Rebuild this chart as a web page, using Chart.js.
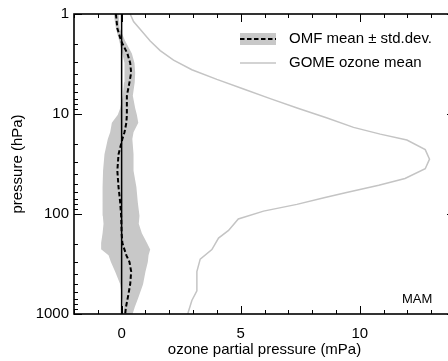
<!DOCTYPE html>
<html>
<head>
<meta charset="utf-8">
<script src="https://cdn.jsdelivr.net/npm/chart.js@4/dist/chart.umd.min.js"></script>
<style>
html,body{margin:0;padding:0;overflow:hidden;background:#fff;}
#wrap{width:470px;height:361px;}
</style>
</head>
<body>
<div id="wrap"><canvas id="c" width="470" height="361"></canvas></div>
<script>
// ---- data ----
const pressureOMF = [1, 1.39, 1.86, 2.48, 3.09, 3.86, 4.82, 6.57, 8.75, 10.2, 12.2, 15.2, 17.8, 25.3, 36.9, 53.8, 76.7, 104, 125, 156, 194, 227, 259, 302, 377, 504, 687, 857, 1000];
const omfMean = [-0.24, -0.18, -0.02, 0.24, 0.36, 0.4, 0.33, 0.22, 0.22, 0.22, 0.2, 0.12, 0.03, -0.13, -0.18, -0.13, -0.06, -0.02, -0.01, 0.0, 0.03, 0.12, 0.2, 0.33, 0.4, 0.36, 0.26, 0.18, 0.15];
const omfLow = [-0.33, -0.24, -0.1, 0.03, 0.12, 0.12, 0.1, 0.05, -0.06, -0.16, -0.41, -0.48, -0.58, -0.72, -0.78, -0.8, -0.8, -0.79, -0.76, -0.8, -0.86, -0.85, -0.55, -0.45, -0.27, -0.06, 0.02, 0.08, 0.08];
const omfHigh = [-0.13, -0.08, 0.15, 0.43, 0.54, 0.57, 0.55, 0.47, 0.57, 0.64, 0.7, 0.5, 0.45, 0.5, 0.5, 0.62, 0.68, 0.75, 0.72, 0.85, 1.06, 1.2, 1.13, 1.1, 1.0, 0.9, 0.7, 0.55, 0.46];

const pressureGOME = [1, 1.19, 1.49, 1.86, 2.32, 2.89, 3.61, 4.51, 5.62, 7.02, 8.75, 10.9, 13.6, 15.9, 18.2, 22.7, 28.3, 35.3, 44.1, 51.5, 61.4, 68.7, 80.1, 93.6, 112, 146, 174, 227, 283, 377, 588, 733, 955, 1000];
const gomeMean = [0.36, 0.5, 0.85, 1.2, 1.62, 2.18, 2.95, 4.0, 5.12, 6.24, 7.4, 8.6, 9.74, 10.86, 11.98, 12.75, 12.93, 12.75, 11.9, 10.8, 9.4, 8.5, 7.36, 5.96, 4.9, 4.49, 4.07, 3.79, 3.3, 3.16, 3.16, 2.95, 2.8, 2.78];

const zeroLineX = [0, 0];
const zeroLineP = [1, 1000];

const xRange = [-2, 14];
const yRange = [1, 1000];
const xTickLabels = [0, 5, 10];
const yTickLabels = [1, 10, 100, 1000];

const seriesNames = ['OMF mean \u00b1 std.dev.', 'GOME ozone mean'];
const xTitle = 'ozone partial pressure (mPa)';
const yTitle = 'pressure (hPa)';
const seasonLabel = 'MAM';

// ---- build ----
const pts = (xs, ps) => xs.map((v, i) => ({x: v, y: ps[i]}));
const FONT = '"Liberation Sans", Arial, Helvetica, sans-serif';
const BAND = '#c8c8c8';
const GOMEC = '#c4c4c4';

const boxPlugin = {
  id: 'boxTicks',
  afterDraw(chart) {
    const {ctx, chartArea: a, scales: {x, y}} = chart;
    ctx.save();
    ctx.strokeStyle = '#000';
    ctx.lineWidth = 1;
    ctx.beginPath();
    for (let v = Math.ceil(xRange[0]); v <= xRange[1]; v++) {
      const px = Math.round(x.getPixelForValue(v)) + 0.5;
      const len = (v % 5 === 0) ? 8 : 4;
      ctx.moveTo(px, a.bottom); ctx.lineTo(px, a.bottom - len);
      ctx.moveTo(px, a.top); ctx.lineTo(px, a.top + len);
    }
    for (let d = 1; d <= 1000; d *= 10) {
      for (let m = 1; m <= 9; m++) {
        const v = d * m;
        if (v > yRange[1]) break;
        const py = Math.round(y.getPixelForValue(v)) + 0.5;
        const len = (m === 1) ? 8 : 4;
        ctx.moveTo(a.left, py); ctx.lineTo(a.left + len, py);
        ctx.moveTo(a.right, py); ctx.lineTo(a.right - len, py);
      }
    }
    ctx.stroke();
    ctx.lineWidth = 1.6;
    ctx.strokeRect(a.left, a.top, a.right - a.left, a.bottom - a.top);

    // legend
    const lx = a.left + 166, lw = 36;
    ctx.fillStyle = BAND;
    ctx.fillRect(lx, a.top + 19, lw, 12);
    ctx.strokeStyle = '#000';
    ctx.lineWidth = 2;
    ctx.setLineDash([4.5, 2.5]);
    ctx.beginPath(); ctx.moveTo(lx, a.top + 25); ctx.lineTo(lx + lw, a.top + 25); ctx.stroke();
    ctx.setLineDash([]);
    ctx.strokeStyle = GOMEC;
    ctx.lineWidth = 1.5;
    ctx.beginPath(); ctx.moveTo(lx, a.top + 49); ctx.lineTo(lx + lw, a.top + 49); ctx.stroke();
    ctx.fillStyle = '#000';
    ctx.font = '15px ' + FONT;
    ctx.textBaseline = 'middle';
    ctx.textAlign = 'left';
    ctx.fillText(seriesNames[0], lx + 49, a.top + 25);
    ctx.fillText(seriesNames[1], lx + 49, a.top + 49);
    ctx.font = '13px ' + FONT;
    ctx.fillText(seasonLabel, a.left + 328, a.top + 285);
    ctx.restore();
  }
};

new Chart(document.getElementById('c'), {
  type: 'line',
  data: {
    datasets: [
      {label: seriesNames[0], data: pts(omfMean, pressureOMF), borderColor: '#000', borderWidth: 2, borderDash: [4.5, 2.5], pointRadius: 0, fill: false, tension: 0},
      {label: 'zero', data: pts(zeroLineX, zeroLineP), borderColor: '#000', borderWidth: 1.5, pointRadius: 0, fill: false},
      {label: seriesNames[1], data: pts(gomeMean, pressureGOME), borderColor: GOMEC, borderWidth: 1.5, pointRadius: 0, fill: false},
      {label: 'high', data: pts(omfHigh, pressureOMF), borderWidth: 0, borderColor: 'rgba(0,0,0,0)', backgroundColor: BAND, pointRadius: 0, fill: '+1'},
      {label: 'low', data: pts(omfLow, pressureOMF), borderWidth: 0, borderColor: 'rgba(0,0,0,0)', pointRadius: 0, fill: false}
    ]
  },
  options: {
    indexAxis: 'y',
    responsive: false,
    animation: false,
    devicePixelRatio: 1,
    layout: {padding: {left: 0, top: 2, right: 15, bottom: 0}},
    plugins: {legend: {display: false}, tooltip: {enabled: false}},
    scales: {
      x: {
        type: 'linear', position: 'bottom', min: xRange[0], max: xRange[1],
        grid: {display: false, drawTicks: false},
        border: {display: false},
        afterBuildTicks: s => { s.ticks = xTickLabels.map(v => ({value: v})); },
        afterFit: s => { s.height = 47; },
        ticks: {color: '#000', font: {family: FONT, size: 15}, padding: 11, maxRotation: 0, callback: v => String(v)},
        title: {display: true, text: xTitle, color: '#000', font: {family: FONT, size: 15}, padding: {top: 0, bottom: 2}}
      },
      y: {
        type: 'logarithmic', position: 'left', reverse: true, min: yRange[0], max: yRange[1],
        grid: {display: false, drawTicks: false},
        border: {display: false},
        afterBuildTicks: s => { s.ticks = yTickLabels.map(v => ({value: v})); },
        afterFit: s => { s.width = 74; },
        ticks: {color: '#000', font: {family: FONT, size: 15}, padding: 5, callback: v => String(v)},
        title: {display: true, text: yTitle, color: '#000', font: {family: FONT, size: 15}, padding: {top: 9, bottom: 0}}
      }
    }
  },
  plugins: [boxPlugin]
});
</script>
</body>
</html>
